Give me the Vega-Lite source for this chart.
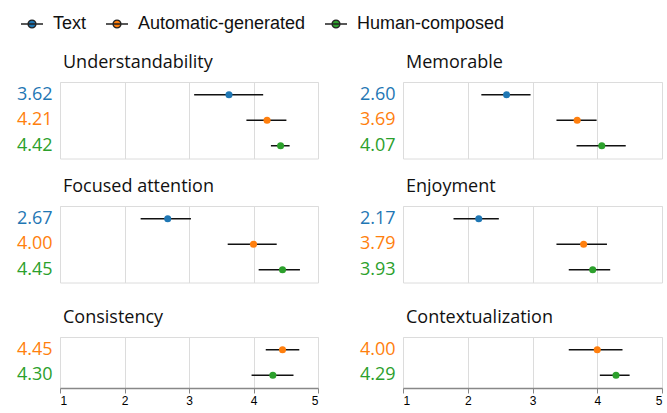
{
  "$schema": "https://vega.github.io/schema/vega-lite/v6.json",
  "padding": {"left": 14, "top": 12, "right": 8, "bottom": 4},
  "background": "white",
  "data": {"values": [
    {"metric": "Understandability", "group": "Text", "gi": 1, "key": "Text: 3.62", "mean": 3.62, "lo": 3.08, "hi": 4.15},
    {"metric": "Understandability", "group": "Automatic-generated", "gi": 2, "key": "Auto: 4.21", "mean": 4.21, "lo": 3.89, "hi": 4.51},
    {"metric": "Understandability", "group": "Human-composed", "gi": 3, "key": "Human: 4.42", "mean": 4.42, "lo": 4.27, "hi": 4.56},
    {"metric": "Memorable", "group": "Text", "gi": 1, "key": "Text: 2.60", "mean": 2.60, "lo": 2.21, "hi": 2.97},
    {"metric": "Memorable", "group": "Automatic-generated", "gi": 2, "key": "Auto: 3.69", "mean": 3.69, "lo": 3.37, "hi": 3.99},
    {"metric": "Memorable", "group": "Human-composed", "gi": 3, "key": "Human: 4.07", "mean": 4.07, "lo": 3.68, "hi": 4.44},
    {"metric": "Focused attention", "group": "Text", "gi": 1, "key": "Text: 2.67", "mean": 2.67, "lo": 2.25, "hi": 3.03},
    {"metric": "Focused attention", "group": "Automatic-generated", "gi": 2, "key": "Auto: 4.00", "mean": 4.00, "lo": 3.60, "hi": 4.36},
    {"metric": "Focused attention", "group": "Human-composed", "gi": 3, "key": "Human: 4.45", "mean": 4.45, "lo": 4.08, "hi": 4.72},
    {"metric": "Enjoyment", "group": "Text", "gi": 1, "key": "Text: 2.17", "mean": 2.17, "lo": 1.78, "hi": 2.48},
    {"metric": "Enjoyment", "group": "Automatic-generated", "gi": 2, "key": "Auto: 3.79", "mean": 3.79, "lo": 3.37, "hi": 4.15},
    {"metric": "Enjoyment", "group": "Human-composed", "gi": 3, "key": "Human: 3.93", "mean": 3.93, "lo": 3.56, "hi": 4.20},
    {"metric": "Consistency", "group": "Automatic-generated", "gi": 2, "key": "Auto: 4.45", "mean": 4.45, "lo": 4.19, "hi": 4.71},
    {"metric": "Consistency", "group": "Human-composed", "gi": 3, "key": "Human: 4.30", "mean": 4.30, "lo": 3.97, "hi": 4.62},
    {"metric": "Contextualization", "group": "Automatic-generated", "gi": 2, "key": "Auto: 4.00", "mean": 4.00, "lo": 3.56, "hi": 4.39},
    {"metric": "Contextualization", "group": "Human-composed", "gi": 3, "key": "Human: 4.29", "mean": 4.29, "lo": 4.04, "hi": 4.50}
  ]},
  "config": {
    "view": {"stroke": "#dcdcdc", "strokeWidth": 1},
    "title": {"anchor": "start", "frame": "group", "fontSize": 18, "font": "Open Sans", "fontWeight": "normal", "color": "#111", "offset": 10, "dx": 3},
    "axisY": {"title": null, "ticks": false, "domain": false, "grid": false, "labelPadding": 8, "labelFont": "Open Sans", "labelFontSize": 18, "minExtent": 45, "maxExtent": 45,
      "labelExpr": "split(datum.value, ': ')[1]",
      "labelColor": {"expr": "indexof(datum.value, 'Text') == 0 ? '#1f77b4' : (indexof(datum.value, 'Auto') == 0 ? '#ff7f0e' : '#2ca02c')"}},
    "axisX": {"title": null, "grid": true, "gridColor": "#dcdcdc", "gridWidth": 1},
    "legend": {"orient": "none", "legendX": -40, "legendY": -70, "direction": "horizontal", "title": null, "labelFont": "Liberation Sans", "labelFontSize": 18, "labelLimit": 400, "labelColor": "#111", "symbolType": "M-1,0L1,0M0.36,0A0.36,0.36,0,1,1,-0.36,0A0.36,0.36,0,1,1,0.36,0Z", "symbolSize": 484, "symbolStrokeColor": "#222", "symbolStrokeWidth": 1.3, "columnPadding": 16, "labelOffset": 9}
  },
  "spacing": 25,
  "vconcat": [
    {"spacing": 18, "vconcat": [
    {"spacing": 38, "hconcat": [
      {"title": "Understandability", "width": 258, "height": {"step": 25.5},
       "transform": [{"filter": "datum.metric == 'Understandability'"}],
       "encoding": {"y": {"field": "key", "type": "nominal", "sort": {"field": "gi", "op": "min"}}},
       "layer": [
         {"mark": {"type": "rule", "color": "#111", "strokeWidth": 1.5},
          "encoding": {"x": {"field": "lo", "type": "quantitative", "scale": {"domain": [1, 5], "nice": false}, "axis": {"values": [1, 2, 3, 4, 5], "labels": false, "ticks": false, "domain": false}}, "x2": {"field": "hi"}}},
         {"mark": {"type": "point", "filled": true, "size": 50, "opacity": 1},
          "encoding": {"x": {"field": "mean", "type": "quantitative"}, "color": {"field": "group", "type": "nominal", "scale": {"domain": ["Text", "Automatic-generated", "Human-composed"], "range": ["#1f77b4", "#ff7f0e", "#2ca02c"]}, "legend": {"title": null}}}}
       ]},
      {"title": "Memorable", "width": 259, "height": {"step": 25.5},
       "transform": [{"filter": "datum.metric == 'Memorable'"}],
       "encoding": {"y": {"field": "key", "type": "nominal", "sort": {"field": "gi", "op": "min"}}},
       "layer": [
         {"mark": {"type": "rule", "color": "#111", "strokeWidth": 1.5},
          "encoding": {"x": {"field": "lo", "type": "quantitative", "scale": {"domain": [1, 5], "nice": false}, "axis": {"values": [1, 2, 3, 4, 5], "labels": false, "ticks": false, "domain": false}}, "x2": {"field": "hi"}}},
         {"mark": {"type": "point", "filled": true, "size": 50, "opacity": 1},
          "encoding": {"x": {"field": "mean", "type": "quantitative"}, "color": {"field": "group", "type": "nominal", "scale": {"domain": ["Text", "Automatic-generated", "Human-composed"], "range": ["#1f77b4", "#ff7f0e", "#2ca02c"]}, "legend": {"title": null}}}}
       ]}
    ]},
    {"spacing": 38, "hconcat": [
      {"title": "Focused attention", "width": 258, "height": {"step": 25.5},
       "transform": [{"filter": "datum.metric == 'Focused attention'"}],
       "encoding": {"y": {"field": "key", "type": "nominal", "sort": {"field": "gi", "op": "min"}}},
       "layer": [
         {"mark": {"type": "rule", "color": "#111", "strokeWidth": 1.5},
          "encoding": {"x": {"field": "lo", "type": "quantitative", "scale": {"domain": [1, 5], "nice": false}, "axis": {"values": [1, 2, 3, 4, 5], "labels": false, "ticks": false, "domain": false}}, "x2": {"field": "hi"}}},
         {"mark": {"type": "point", "filled": true, "size": 50, "opacity": 1},
          "encoding": {"x": {"field": "mean", "type": "quantitative"}, "color": {"field": "group", "type": "nominal", "scale": {"domain": ["Text", "Automatic-generated", "Human-composed"], "range": ["#1f77b4", "#ff7f0e", "#2ca02c"]}, "legend": {"title": null}}}}
       ]},
      {"title": "Enjoyment", "width": 259, "height": {"step": 25.5},
       "transform": [{"filter": "datum.metric == 'Enjoyment'"}],
       "encoding": {"y": {"field": "key", "type": "nominal", "sort": {"field": "gi", "op": "min"}}},
       "layer": [
         {"mark": {"type": "rule", "color": "#111", "strokeWidth": 1.5},
          "encoding": {"x": {"field": "lo", "type": "quantitative", "scale": {"domain": [1, 5], "nice": false}, "axis": {"values": [1, 2, 3, 4, 5], "labels": false, "ticks": false, "domain": false}}, "x2": {"field": "hi"}}},
         {"mark": {"type": "point", "filled": true, "size": 50, "opacity": 1},
          "encoding": {"x": {"field": "mean", "type": "quantitative"}, "color": {"field": "group", "type": "nominal", "scale": {"domain": ["Text", "Automatic-generated", "Human-composed"], "range": ["#1f77b4", "#ff7f0e", "#2ca02c"]}, "legend": {"title": null}}}}
       ]}
    ]}
    ]},
    {"spacing": 38, "hconcat": [
      {"title": "Consistency", "width": 258, "height": {"step": 25.5},
       "transform": [{"filter": "datum.metric == 'Consistency'"}],
       "encoding": {"y": {"field": "key", "type": "nominal", "sort": {"field": "gi", "op": "min"}}},
       "layer": [
         {"mark": {"type": "rule", "color": "#111", "strokeWidth": 1.5},
          "encoding": {"x": {"field": "lo", "type": "quantitative", "scale": {"domain": [1, 5], "nice": false}, "axis": {"values": [1, 2, 3, 4, 5], "format": "d", "labels": true, "labelFlush": true, "labelFontSize": 12, "labelColor": "#000", "labelFont": "Liberation Sans", "ticks": true, "tickColor": "#888", "tickSize": 5, "domain": true, "domainColor": "#888", "domainWidth": 1.5, "labelPadding": 2}}, "x2": {"field": "hi"}}},
         {"mark": {"type": "point", "filled": true, "size": 50, "opacity": 1},
          "encoding": {"x": {"field": "mean", "type": "quantitative"}, "color": {"field": "group", "type": "nominal", "scale": {"domain": ["Text", "Automatic-generated", "Human-composed"], "range": ["#1f77b4", "#ff7f0e", "#2ca02c"]}, "legend": {"title": null}}}}
       ]},
      {"title": "Contextualization", "width": 259, "height": {"step": 25.5},
       "transform": [{"filter": "datum.metric == 'Contextualization'"}],
       "encoding": {"y": {"field": "key", "type": "nominal", "sort": {"field": "gi", "op": "min"}}},
       "layer": [
         {"mark": {"type": "rule", "color": "#111", "strokeWidth": 1.5},
          "encoding": {"x": {"field": "lo", "type": "quantitative", "scale": {"domain": [1, 5], "nice": false}, "axis": {"values": [1, 2, 3, 4, 5], "format": "d", "labels": true, "labelFlush": true, "labelFontSize": 12, "labelColor": "#000", "labelFont": "Liberation Sans", "ticks": true, "tickColor": "#888", "tickSize": 5, "domain": true, "domainColor": "#888", "domainWidth": 1.5, "labelPadding": 2}}, "x2": {"field": "hi"}}},
         {"mark": {"type": "point", "filled": true, "size": 50, "opacity": 1},
          "encoding": {"x": {"field": "mean", "type": "quantitative"}, "color": {"field": "group", "type": "nominal", "scale": {"domain": ["Text", "Automatic-generated", "Human-composed"], "range": ["#1f77b4", "#ff7f0e", "#2ca02c"]}, "legend": {"title": null}}}}
       ]}
    ]}
  ]
}
